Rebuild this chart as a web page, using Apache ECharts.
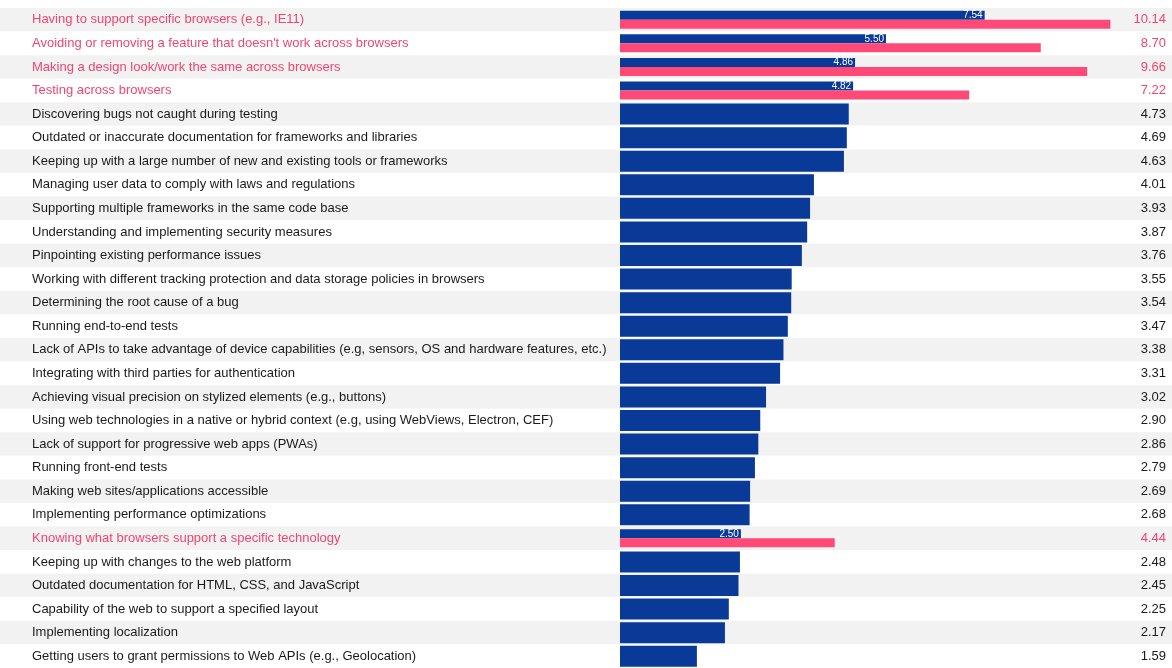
<!DOCTYPE html>
<html>
<head>
<meta charset="utf-8">
<style>
  html, body { margin: 0; padding: 0; background: #fff; }
  #chart { width: 1172px; height: 668px; }
</style>
<script src="https://cdn.jsdelivr.net/npm/echarts@6/dist/echarts.min.js"></script>
</head>
<body>
<div id="chart"></div>
<script>
const categories = [
  "Having to support specific browsers (e.g., IE11)",
  "Avoiding or removing a feature that doesn't work across browsers",
  "Making a design look/work the same across browsers",
  "Testing across browsers",
  "Discovering bugs not caught during testing",
  "Outdated or inaccurate documentation for frameworks and libraries",
  "Keeping up with a large number of new and existing tools or frameworks",
  "Managing user data to comply with laws and regulations",
  "Supporting multiple frameworks in the same code base",
  "Understanding and implementing security measures",
  "Pinpointing existing performance issues",
  "Working with different tracking protection and data storage policies in browsers",
  "Determining the root cause of a bug",
  "Running end-to-end tests",
  "Lack of APIs to take advantage of device capabilities (e.g, sensors, OS and hardware features, etc.)",
  "Integrating with third parties for authentication",
  "Achieving visual precision on stylized elements (e.g., buttons)",
  "Using web technologies in a native or hybrid context (e.g, using WebViews, Electron, CEF)",
  "Lack of support for progressive web apps (PWAs)",
  "Running front-end tests",
  "Making web sites/applications accessible",
  "Implementing performance optimizations",
  "Knowing what browsers support a specific technology",
  "Keeping up with changes to the web platform",
  "Outdated documentation for HTML, CSS, and JavaScript",
  "Capability of the web to support a specified layout",
  "Implementing localization",
  "Getting users to grant permissions to Web APIs (e.g., Geolocation)"
];
const baseValues = [7.54, 5.50, 4.86, 4.82, 4.73, 4.69, 4.63, 4.01, 3.93, 3.87, 3.76, 3.55, 3.54, 3.47,
  3.38, 3.31, 3.02, 2.90, 2.86, 2.79, 2.69, 2.68, 2.50, 2.48, 2.45, 2.25, 2.17, 1.59];
const browserValues = [10.14, 8.70, 9.66, 7.22, null, null, null, null, null, null, null, null, null, null,
  null, null, null, null, null, null, null, null, 4.44, null, null, null, null, null];

const BLUE = '#0a3a98';
const PINK = '#ff4a78';
const PINK_TEXT = '#f2456f';
const isHi = i => browserValues[i] != null;

const fullData = baseValues.map((v, i) => isHi(i) ? '-' : v);
const halfBlue = baseValues.map((v, i) => isHi(i) ? v : '-');
const halfPink = browserValues.map(v => v == null ? '-' : v);

const chart = echarts.init(document.getElementById('chart'), null, { renderer: 'canvas' });
const font = 'Liberation Sans, Arial, Helvetica, sans-serif';

chart.setOption({
  animation: false,
  textStyle: { fontFamily: font },
  grid: [
    { left: 0, right: 0, top: 8, bottom: 0 },
    { left: 620, right: 20, top: 8, bottom: 0 }
  ],
  xAxis: [
    { gridIndex: 0, type: 'value', min: 0, max: 1, show: false },
    { gridIndex: 1, type: 'value', min: 0, max: 11, show: false }
  ],
  yAxis: [
    {
      gridIndex: 0, type: 'category', inverse: true, data: categories,
      axisLine: { show: false }, axisTick: { show: false }, axisLabel: { show: false },
      splitLine: { show: false },
      splitArea: { show: true, areaStyle: { color: ['#f2f2f2', '#ffffff'] } }
    },
    {
      gridIndex: 1, type: 'category', inverse: true, data: categories, position: 'left',
      axisLine: { show: false }, axisTick: { show: false },
      axisLabel: {
        align: 'left', margin: 588, fontSize: 13, fontFamily: font, color: '#1a1a1a',
        formatter: (v, i) => isHi(i) ? '{p|' + v + '}' : v,
        rich: { p: { color: PINK_TEXT, fontSize: 13, fontFamily: font } }
      }
    },
    {
      gridIndex: 1, type: 'category', inverse: true, data: categories, position: 'right',
      axisLine: { show: false }, axisTick: { show: false },
      axisLabel: {
        align: 'right', margin: 14, fontSize: 13, fontFamily: font, color: '#1a1a1a',
        formatter: (v, i) => isHi(i) ? '{p|' + browserValues[i].toFixed(2) + '}' : baseValues[i].toFixed(2),
        rich: { p: { color: PINK_TEXT, fontSize: 13, fontFamily: font } }
      }
    },
    {
      gridIndex: 1, type: 'category', inverse: true, data: categories, show: false
    }
  ],
  series: [
    {
      type: 'bar', xAxisIndex: 1, yAxisIndex: 1, data: fullData, barWidth: 21,
      itemStyle: { color: BLUE }
    },
    {
      type: 'bar', xAxisIndex: 1, yAxisIndex: 3, data: halfBlue, barWidth: 9, barGap: '0%',
      itemStyle: { color: BLUE },
      label: {
        show: true, position: 'insideRight', distance: 2, color: '#fff', fontSize: 10,
        fontFamily: font, formatter: p => p.value.toFixed(2)
      }
    },
    {
      type: 'bar', xAxisIndex: 1, yAxisIndex: 3, data: halfPink, barWidth: 9, barGap: '0%',
      itemStyle: { color: PINK }
    }
  ]
});
</script>
</body>
</html>
